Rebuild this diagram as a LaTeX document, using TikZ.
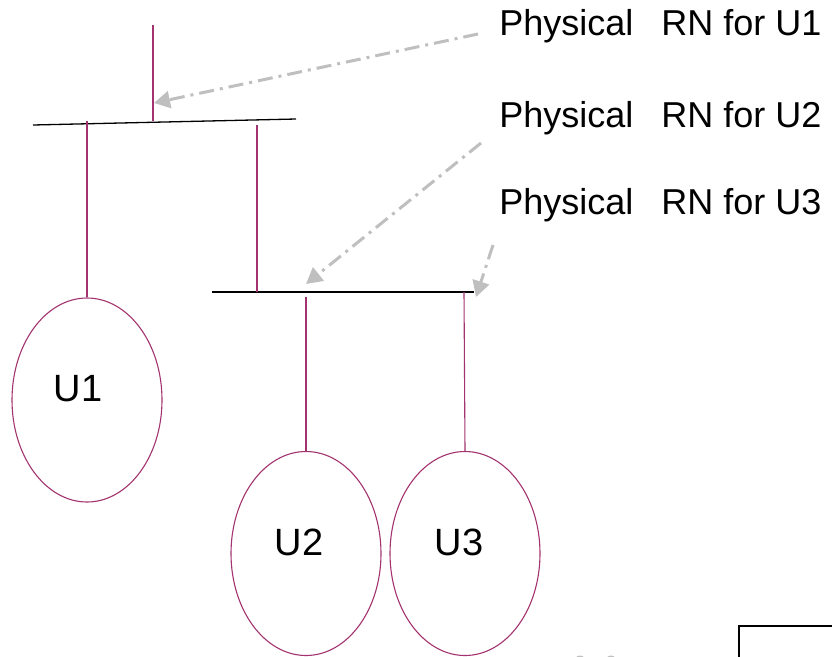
\documentclass[tikz,border=0pt]{standalone}
\usepackage{fontspec}
\setmainfont{Liberation Sans}
\usetikzlibrary{arrows.meta,shapes.geometric}
\definecolor{wire}{HTML}{A3336E}
\definecolor{pointergray}{HTML}{BFBFBF}
\begin{document}
\begin{tikzpicture}[x=1pt,y=-1pt,
  wire/.style={draw=wire,line width=1.1pt},
  bar/.style={draw=black,line width=1.3pt},
  ue/.style={ellipse,draw=wire,line width=1.1pt,minimum width=150pt,minimum height=204pt,inner sep=0pt},
  ulabel/.style={font=\fontsize{38}{40}\selectfont,inner sep=0pt,anchor=base},
  rnlabel/.style={font=\fontsize{36}{38}\selectfont,inner sep=0pt,anchor=base west},
  pointer/.style={draw=pointergray,line width=3pt,dash pattern=on 15pt off 6pt on 3pt off 6pt,
    -{Triangle[length=16pt,width=17pt]}}
]
\useasboundingbox (0,0) rectangle (832,656);
\begin{scope}
\clip (0,0) rectangle (832,656);

% upper bar and its feeder
\coordinate (ta) at (33,125);
\coordinate (tb) at (296,119);
\draw[bar] (ta) -- (tb);
\coordinate (feedtop) at (153,25);
\coordinate (feedbot) at (153,121);
\draw[wire] (feedtop) -- (feedbot);

% lower bar
\coordinate (la) at (212,292);
\coordinate (lb) at (474,292);
\draw[bar] (la) -- (lb);

% user ellipses
\node[ue] (u1) at (87,400) {};
\node[ue] (u2) at (306,553.5) {};
\node[ue] (u3) at (465,553.5) {};
\node[ulabel] (u1t) at (78,401.5) {U1};
\node[ulabel] (u2t) at (299,555) {U2};
\node[ulabel] (u3t) at (459,555) {U3};

% branches
\coordinate (b1) at (87,121);
\draw[wire] (b1) -- (u1.north);
\coordinate (b2a) at (257,125);
\coordinate (b2b) at (257,292);
\draw[wire] (b2a) -- (b2b);
\coordinate (b3) at (306,297);
\draw[wire] (b3) -- (u2.north);
\coordinate (b4) at (464,292);
\draw[wire] (b4) -- (u3.north);

% labels
\node[rnlabel] (rn1) at (499.2,35) {Physical\hspace{28pt}RN for U1};
\node[rnlabel] (rn2) at (499.2,127) {Physical\hspace{28pt}RN for U2};
\node[rnlabel] (rn3) at (499.2,214) {Physical\hspace{28pt}RN for U3};

% pointers
\coordinate (p1s) at (478,34);
\coordinate (p1e) at (154,103);
\coordinate (p2s) at (481,143);
\coordinate (p2e) at (306,284);
\coordinate (p3s) at (493,245);
\coordinate (p3e) at (476,297);
\draw[pointer] (p1s) -- (p1e);
\draw[pointer] (p2s) -- (p2e);
\draw[pointer] (p3s) -- (p3e);

% partial shapes at the lower edge
\fill[pointergray] (580,662) ellipse (6 and 6.5);
\fill[pointergray] (611,662) ellipse (6 and 6.5);
\draw[line width=2.8pt] (739,660) -- (739,626) -- (836,626);
\end{scope}
\end{tikzpicture}
\end{document}
